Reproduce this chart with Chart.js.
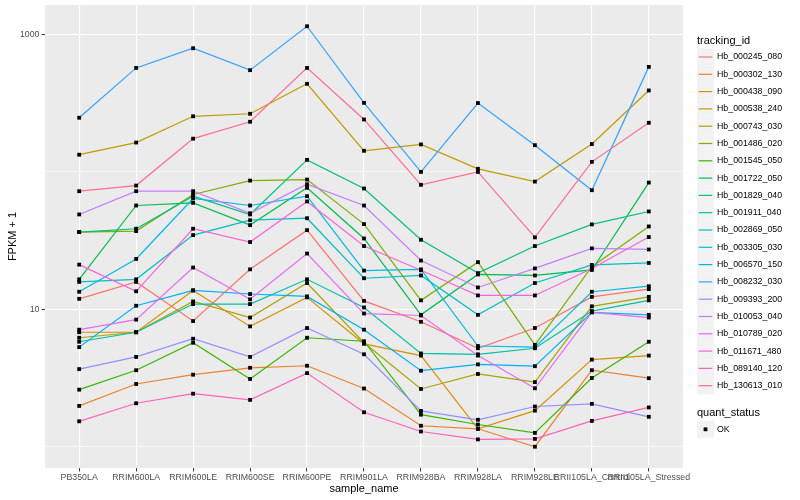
<!DOCTYPE html>
<html><head><meta charset="utf-8">
<script src="https://cdn.jsdelivr.net/npm/chart.js@4.4.1/dist/chart.umd.min.js"></script>
<style>html,body{margin:0;padding:0;background:#fff}canvas{display:block}</style>
</head><body>
<canvas id="c" width="800" height="500"></canvas>
<script>
const categories = ['PB350LA','RRIM600LA','RRIM600LE','RRIM600SE','RRIM600PE','RRIM901LA','RRIM928BA','RRIM928LA','RRIM928LE','RRII105LA_Control','RRII105LA_Stressed'];
const trackingIds = ['Hb_000245_080','Hb_000302_130','Hb_000438_090','Hb_000538_240','Hb_000743_030','Hb_001486_020','Hb_001545_050','Hb_001722_050','Hb_001829_040','Hb_001911_040','Hb_002869_050','Hb_003305_030','Hb_006570_150','Hb_008232_030','Hb_009393_200','Hb_010053_040','Hb_010789_020','Hb_011671_480','Hb_089140_120','Hb_130613_010'];

// FPKM + 1 per sample
const hb000245 = [11.9, 15.8, 8.2, 19.5, 37.6, 11.5, 8.1, 5.2, 7.3, 12.3, 14.0];
const hb000302 = [1.98, 2.86, 3.34, 3.75, 3.88, 2.65, 1.42, 1.35, 1.0, 3.6, 3.15];
const hb000438 = [6.8, 6.8, 13.7, 7.5, 12.2, 5.6, 4.6, 1.35, 1.83, 4.3, 4.6];
const hb000538 = [133, 163, 253, 264, 436, 142, 158, 105, 84.8, 159, 390];
const hb000743 = [6.2, 6.8, 11.4, 8.7, 15.5, 5.7, 2.63, 3.38, 2.95, 10.5, 12.3];
const hb001486 = [36.4, 37.0, 68.3, 86.2, 87.7, 41.6, 11.6, 22.0, 5.5, 20.4, 40.0];
const hb001545 = [2.6, 3.6, 5.7, 3.11, 6.2, 5.85, 1.71, 1.45, 1.26, 3.16, 5.8];
const hb001722 = [16.5, 56.8, 59.4, 40.9, 76.4, 32.7, 9.1, 17.9, 17.6, 19.3, 83.4];
const hb001829 = [36.4, 38.5, 66.4, 48.9, 122, 75.5, 32.0, 18.3, 28.8, 41.4, 51.4];
const hb001911 = [5.8, 6.8, 10.9, 10.9, 16.5, 10.3, 4.77, 4.7, 5.2, 9.7, 11.6];
const hb002869 = [15.8, 16.5, 34.6, 44.4, 45.9, 16.8, 17.6, 9.1, 15.5, 21.0, 21.7];
const hb003305 = [13.4, 23.2, 63.9, 56.8, 66.4, 19.1, 19.5, 5.4, 5.3, 13.4, 14.7];
const hb006570 = [5.3, 10.6, 13.7, 12.9, 12.4, 7.1, 3.57, 3.97, 3.85, 9.5, 9.1];
const hb008232 = [247, 569, 791, 548, 1143, 317, 99.7, 316, 156, 73.4, 579];
const hb009393 = [3.67, 4.5, 6.1, 4.5, 7.3, 4.7, 1.82, 1.57, 1.96, 2.05, 1.65];
const hb010053 = [48.9, 72.2, 72.2, 49.9, 81.1, 56.8, 22.6, 14.4, 19.8, 27.7, 27.2];
const hb010789 = [7.1, 8.4, 20.1, 11.8, 25.4, 9.3, 9.0, 4.6, 2.66, 9.5, 8.7];
const hb011671 = [21.1, 13.5, 38.5, 30.8, 60.8, 28.8, 19.2, 12.6, 12.6, 19.8, 33.5];
const hb089140 = [1.53, 2.07, 2.43, 2.19, 3.43, 1.78, 1.29, 1.13, 1.14, 1.54, 1.93];
const hb130613 = [72.2, 79.3, 174, 231, 569, 240, 80.3, 99.7, 33.3, 118, 227];
const seriesValues = [hb000245, hb000302, hb000438, hb000538, hb000743, hb001486, hb001545, hb001722, hb001829, hb001911, hb002869, hb003305, hb006570, hb008232, hb009393, hb010053, hb010789, hb011671, hb089140, hb130613];

const yTicks = [1, 10, 100, 1000];
const yLabels = [10, 1000];

// ggplot hue palette, 20 levels
const lineColors = ['#F8766D','#EA8331','#D89000','#C09B00','#A3A500','#7CAE00','#39B600','#00BB4E','#00BF7D','#00C1A3','#00BFC4','#00BAE0','#00B0F6','#35A2FF','#9590FF','#C77CFF','#E76BF3','#FA62DB','#FF62BC','#FF6C91'];
const FONT = '"Liberation Sans", Arial, sans-serif';

const ggPlugin = {
  id: 'gg',
  beforeDraw(chart) {
    const { ctx, chartArea: a } = chart;
    ctx.save();
    ctx.fillStyle = '#fff'; ctx.fillRect(0, 0, chart.width, chart.height);
    ctx.fillStyle = '#EBEBEB'; ctx.fillRect(a.left, a.top, a.right - a.left, a.bottom - a.top);
    ctx.restore();
  },
  afterDatasetsDraw(chart) {
    // points layer sits above every line, like geom_point after geom_line
    const ctx = chart.ctx;
    ctx.save(); ctx.fillStyle = '#000';
    chart.data.datasets.forEach((d, i) => {
      chart.getDatasetMeta(i).data.forEach(p => ctx.fillRect(p.x - 1.9, p.y - 1.9, 3.8, 3.8));
    });
    ctx.restore();
  },
  afterDraw(chart) {
    const { ctx, chartArea: a } = chart;
    ctx.save();
    ctx.fillStyle = '#000'; ctx.textBaseline = 'middle';
    ctx.font = '11px ' + FONT;
    ctx.textAlign = 'center';
    ctx.fillText('sample_name', (a.left + a.right) / 2, 489);
    ctx.save(); ctx.translate(12.5, (a.top + a.bottom) / 2); ctx.rotate(-Math.PI / 2);
    ctx.fillText('FPKM + 1', 0, 0); ctx.restore();

    ctx.textAlign = 'left';
    ctx.fillText('tracking_id', 697, 40.7);
    chart.data.datasets.forEach((d, i) => {
      const y = 57 + i * 17.3;
      ctx.fillStyle = '#F2F2F2'; ctx.fillRect(697, y - 8.6, 17, 17.2);
      ctx.strokeStyle = d.borderColor; ctx.lineWidth = 1.2;
      ctx.beginPath(); ctx.moveTo(698.7, y); ctx.lineTo(712.3, y); ctx.stroke();
      ctx.fillStyle = '#000'; ctx.font = '8.8px ' + FONT;
      ctx.fillText(d.label, 717, y);
    });
    ctx.font = '11px ' + FONT;
    ctx.fillText('quant_status', 697, 412.7);
    ctx.fillStyle = '#F2F2F2'; ctx.fillRect(697, 420.7, 17, 17.2);
    ctx.fillStyle = '#000'; ctx.fillRect(703.6, 427.4, 3.8, 3.8);
    ctx.font = '8.8px ' + FONT;
    ctx.fillText('OK', 717, 429.3);
    ctx.restore();
  }
};

new Chart(document.getElementById('c'), {
  type: 'line',
  data: {
    datasets: trackingIds.map((id, i) => ({
      label: id,
      data: seriesValues[i].map((v, j) => ({ x: j, y: v })),
      borderColor: lineColors[i], borderWidth: 1.2,
      pointRadius: 0, tension: 0, fill: false, order: -i
    }))
  },
  options: {
    responsive: false, animation: false,
    layout: { padding: { top: 5, right: 117, left: 0, bottom: 0 } },
    plugins: { legend: { display: false }, tooltip: { enabled: false } },
    scales: {
      x: {
        type: 'linear', min: -0.6, max: 10.6,
        afterBuildTicks: s => { s.ticks = categories.map((c, i) => ({ value: i })); },
        afterFit: s => { s.height = 32; s.paddingLeft = 0; s.paddingRight = 0; },
        border: { display: false },
        grid: { color: '#fff', lineWidth: 1.1, tickColor: '#333', tickLength: 3.5, tickWidth: 1 },
        ticks: { autoSkip: false, maxRotation: 0, minRotation: 0, padding: 1, color: '#4D4D4D',
          font: { family: FONT, size: 8.8 }, callback: v => categories[v] }
      },
      y: {
        type: 'logarithmic', min: 0.714, max: 1632,
        afterBuildTicks: s => { s.ticks = yTicks.map(v => ({ value: v })); },
        afterFit: s => { s.width = 45; s.paddingTop = 0; s.paddingBottom = 0; },
        border: { display: false },
        grid: {
          color: '#fff',
          lineWidth: c => yLabels.includes(c.tick && c.tick.value) ? 1.1 : 0.55,
          tickColor: c => yLabels.includes(c.tick && c.tick.value) ? '#333' : 'rgba(0,0,0,0)',
          tickWidth: 1, tickLength: 3.5
        },
        ticks: { padding: 2, color: '#4D4D4D', font: { family: FONT, size: 8.8 },
          callback: v => yLabels.includes(v) ? String(v) : '' }
      }
    }
  },
  plugins: [ggPlugin]
});
</script>
</body></html>
